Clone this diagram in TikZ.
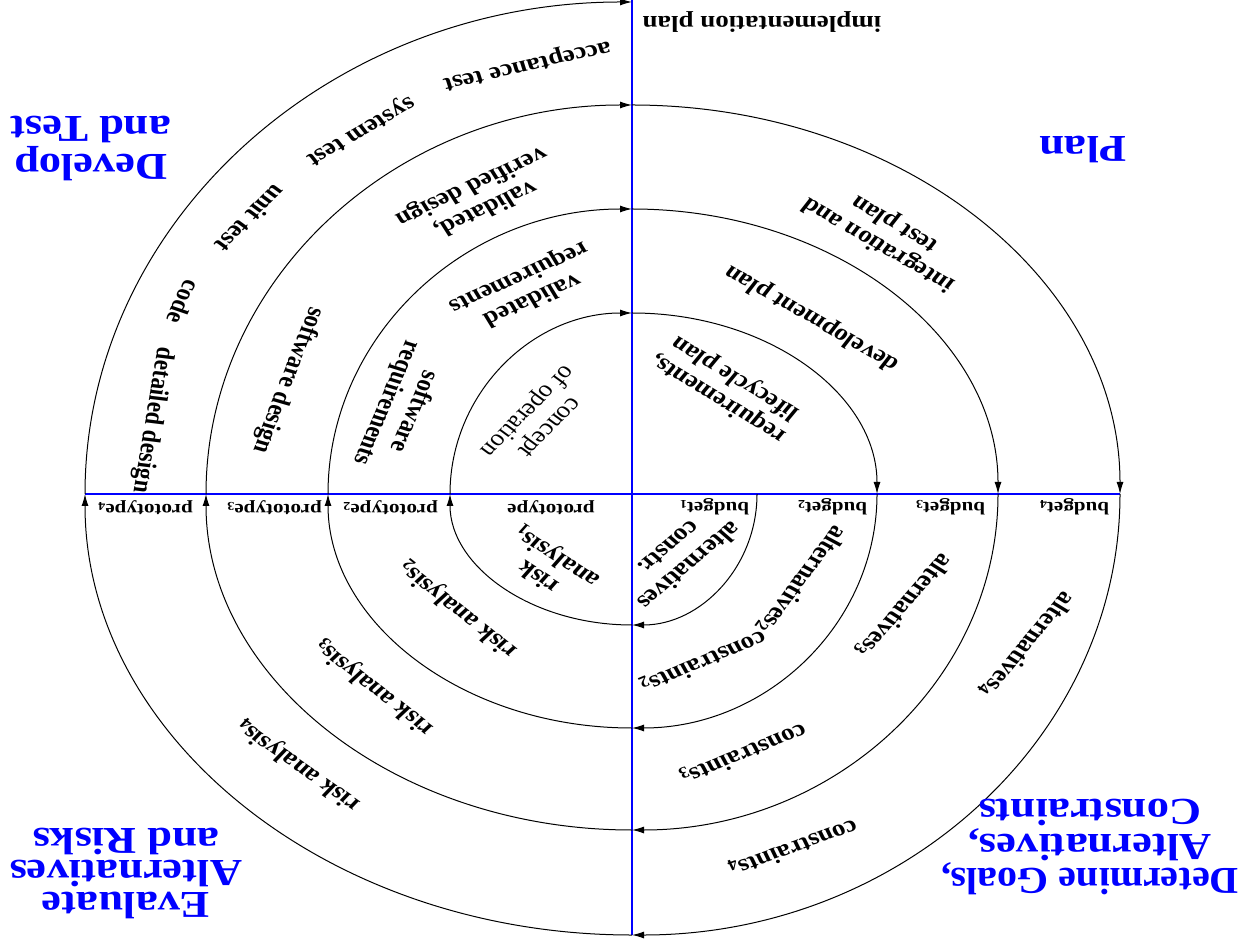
\documentclass[tikz,border=0pt]{standalone}
\usepackage{graphicx}
\usepackage{fontspec}
\setmainfont{Liberation Serif}
\usetikzlibrary{arrows.meta}
\begin{document}
\begin{tikzpicture}[x=0.5pt,y=0.5pt,
  flow/.style={line width=0.5pt, -{Latex[length=6pt,width=3.5pt]}},
  axisline/.style={blue, line width=0.9pt},
  lbl/.style={xscale=1.17, font=\bfseries\fontsize{11.5}{12.5}\selectfont, align=center, inner sep=0pt},
  lblr/.style={xscale=1.17, font=\fontsize{11.5}{12.5}\selectfont, align=center, inner sep=0pt},
  small/.style={xscale=1.17, font=\bfseries\fontsize{9}{10}\selectfont, inner sep=0pt, rotate=180},
  quad/.style={xscale=1.17, text=blue, font=\bfseries\fontsize{19}{16}\selectfont, align=center, inner sep=0pt, rotate=180},
]
\useasboundingbox (0,0) rectangle (1245,948);

% axes
\coordinate (vtop) at (632,948);
\coordinate (vbot) at (632,13);
\coordinate (hl) at (85,454);
\coordinate (hr) at (1120,454);
\draw[axisline] (vtop) -- (vbot);
\draw[axisline] (hl) -- (hr);

% spiral crossing points
\coordinate (s0) at (757,454);
\coordinate (b1) at (632,323);
\coordinate (l1) at (450,454);
\coordinate (t1) at (632,635);
\coordinate (r1) at (877,454);
\coordinate (b2) at (632,220);
\coordinate (l2) at (328,454);
\coordinate (t2) at (632,739);
\coordinate (r2) at (998,454);
\coordinate (b3) at (632,118);
\coordinate (l3) at (206,454);
\coordinate (t3) at (632,843);
\coordinate (r3) at (1120,454);
\coordinate (b4) at (632,13);
\coordinate (l4) at (85,454);

% ring 1
\draw[flow] (s0) arc[start angle=0,end angle=-90,x radius=125,y radius=131];
\draw[flow] (b1) arc[start angle=270,end angle=180,x radius=182,y radius=131];
\draw[flow] (l1) arc[start angle=180,end angle=90,x radius=182,y radius=181];
\draw[flow] (t1) arc[start angle=90,end angle=0,x radius=245,y radius=181];
% ring 2
\draw[flow] (r1) arc[start angle=0,end angle=-90,x radius=245,y radius=234];
\draw[flow] (b2) arc[start angle=270,end angle=180,x radius=304,y radius=234];
\draw[flow] (l2) arc[start angle=180,end angle=90,x radius=304,y radius=285];
\draw[flow] (t2) arc[start angle=90,end angle=0,x radius=366,y radius=285];
% ring 3
\draw[flow] (r2) arc[start angle=0,end angle=-90,x radius=366,y radius=336];
\draw[flow] (b3) arc[start angle=270,end angle=180,x radius=426,y radius=336];
\draw[flow] (l3) arc[start angle=180,end angle=90,x radius=426,y radius=389];
\draw[flow] (t3) arc[start angle=90,end angle=0,x radius=488,y radius=389];
% ring 4
\draw[flow] (r3) arc[start angle=0,end angle=-90,x radius=488,y radius=441];
\draw[flow] (b4) arc[start angle=270,end angle=180,x radius=547,y radius=441];
\draw[flow] (l4) arc[start angle=180,end angle=90,x radius=547,y radius=492];

% quadrant titles
\node[quad] (qplan) at (1083,798) {Plan};
\node[quad,font=\bfseries\fontsize{19}{19}\selectfont] (qdev) at (91,799) {Develop\\and Test};
\node[quad] (qeval) at (126,75) {Evaluate\\Alternatives\\and Risks};
\node[quad] (qdet) at (1090,101) {\scalebox{0.9}[1]{Determine Goals,}\\Alternatives,\\Constraints};

% axis labels
\node[small] (p4) at (145,440) {prototype\textsubscript{4}};
\node[small] (p3) at (274,440) {prototype\textsubscript{3}};
\node[small] (p2) at (390,440) {prototype\textsubscript{2}};
\node[small] (p1) at (551,440) {prototype};
\node[small] (bu1) at (714,441) {budget\textsubscript{1}};
\node[small] (bu2) at (832,441) {budget\textsubscript{2}};
\node[small] (bu3) at (950,441) {budget\textsubscript{3}};
\node[small] (bu4) at (1074,441) {budget\textsubscript{4}};

% plan quadrant
\node[lbl,rotate=180] (impl) at (762,926) {implementation plan};
\node[lbl,rotate=144.6] (reqlc) at (727,560) {requirements,\\lifecycle plan};
\node[lbl,rotate=146.3] (devpl) at (812,630) {development plan};
\node[lbl,rotate=146.2] (intpl) at (887,714) {integration and\\test plan};

% develop quadrant
\node[lbl,rotate=194.9] (acc) at (527,884) {acceptance test};
\node[lbl,rotate=214] (sys) at (360,818) {system test};
\node[lbl,rotate=229.5] (unit) at (251,729) {unit test};
\node[lbl,rotate=248.2] (code) at (184,646) {code};
\node[lbl,rotate=261.9] (det) at (152,528) {detailed design};
\node[lbl,rotate=208.6] (vvd) at (478,751) {validated,\\verified design};
\node[lbl,rotate=207.5] (vreq) at (525,660) {validated\\requirements};
\node[lbl,rotate=251.3] (swd) at (288,568) {software design};
\node[lbl,rotate=250] (swr) at (400,541) {software\\requirements};
\node[lblr,rotate=229.5] (conc) at (537,530) {concept\\of operation};

% evaluate quadrant
\node[lbl,rotate=142.8] (ra1) at (548,382) {risk\\analysis\textsubscript{1}};
\node[lbl,rotate=137.2] (ra2) at (458,339) {risk analysis\textsubscript{2}};
\node[lbl,rotate=137.6] (ra3) at (374,261) {risk analysis\textsubscript{3}};
\node[lbl,rotate=140.7] (ra4) at (298,183) {risk analysis\textsubscript{4}};

% determine quadrant
\node[lbl,rotate=224.5] (alt1) at (680,391) {alternatives\\constr.};
\node[lbl,rotate=237.7] (alt2) at (802,368) {alternatives\textsubscript{2}};
\node[lbl,rotate=206] (con2) at (703,286) {constraints\textsubscript{2}};
\node[lbl,rotate=233.6] (alt3) at (904,342) {alternatives\textsubscript{3}};
\node[lbl,rotate=205.4] (con3) at (743,194) {constraints\textsubscript{3}};
\node[lbl,rotate=234.6] (alt4) at (1027,303) {alternatives\textsubscript{4}};
\node[lbl,rotate=202.8] (con4) at (793,100) {constraints\textsubscript{4}};
\end{tikzpicture}
\end{document}
